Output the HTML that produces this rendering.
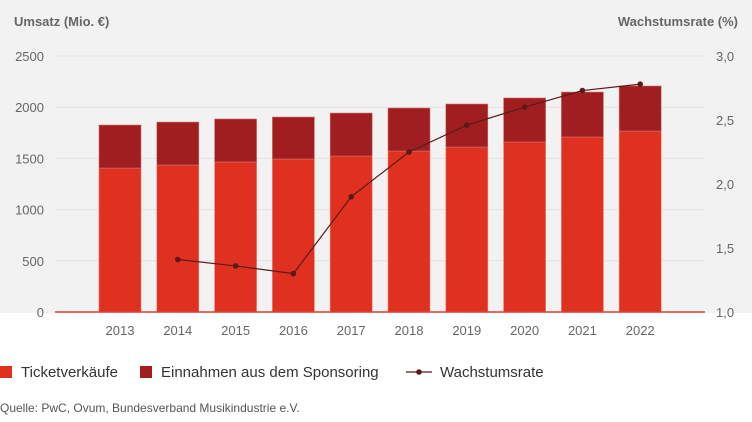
<!DOCTYPE html>
<html><head><meta charset="utf-8"><style>
body{margin:0;width:752px;height:417px;background:#fff;font-family:"Liberation Sans",sans-serif;overflow:hidden}
</style></head><body>
<svg width="752" height="417" id="c" font-family="Liberation Sans, sans-serif">
<rect x="0" y="0" width="752" height="313" fill="#f2f2f2"/>
<text x="14" y="26" font-size="13" font-weight="bold" fill="#666">Umsatz (Mio. €)</text>
<text x="738" y="26" font-size="13" font-weight="bold" fill="#666" text-anchor="end">Wachstumsrate (%)</text>
<g id="grid"></g><g id="bars"></g><g id="line"></g><g id="axes"></g>
<g font-size="15" fill="#333">
<rect x="0" y="366" width="12" height="12" fill="#e03020"/>
<text x="21" y="377">Ticketverkäufe</text>
<rect x="140" y="366" width="12" height="12" fill="#a01e20"/>
<text x="161" y="377">Einnahmen aus dem Sponsoring</text>
<line x1="406" y1="372" x2="432" y2="372" stroke="#5a1a1a" stroke-width="1.3"/>
<circle cx="419" cy="372" r="2.8" fill="#5a1a1a"/>
<text x="440" y="377">Wachstumsrate</text>
</g>
<text x="0" y="412" font-size="12" fill="#555">Quelle: PwC, Ovum, Bundesverband Musikindustrie e.V.</text>
</svg>
<script>
const years=["2013","2014","2015","2016","2017","2018","2019","2020","2021","2022"];
const ticket=[1406,1435,1465,1494,1523,1572,1611,1660,1709,1767];
const sponsoring=[420,420,420,410,420,420,420,430,439,440];
const growth=[null,1.41,1.36,1.30,1.90,2.25,2.46,2.60,2.73,2.78];
const leftTicks=[0,500,1000,1500,2000,2500];
const rightTicks=["1,0","1,5","2,0","2,5","3,0"];
const rightVals=[1.0,1.5,2.0,2.5,3.0];
const NS="http://www.w3.org/2000/svg";
const yL=v=>312-v/2500*256;
const yR=v=>312-(v-1)/2*256;
const xC=i=>120+57.8*i;
const bw=42;
function mk(t,a,p){const e=document.createElementNS(NS,t);for(const k in a)e.setAttribute(k,a[k]);p.appendChild(e);return e;}
const g=document.getElementById('grid'),b=document.getElementById('bars'),l=document.getElementById('line'),ax=document.getElementById('axes');
leftTicks.forEach(v=>{
 const ln=mk('line',{x1:55,x2:705,y1:yL(v),y2:yL(v),stroke:'#e2e2e2','stroke-width':1},g);
 
 
 const t=mk('text',{x:44,y:yL(v)+5,'font-size':13,fill:'#666','text-anchor':'end'},ax);t.textContent=v;
 
 
});
rightVals.forEach((v,i)=>{
 const t=mk('text',{x:716,y:yR(v)+5,'font-size':13,fill:'#666'},ax);t.textContent=rightTicks[i];
 
 
});
years.forEach((y,i)=>{
 const x=xC(i)-bw/2;
 const r1=mk('rect',{x:x,y:yL(ticket[i]),width:bw,height:yL(0)-yL(ticket[i]),fill:'#e03020',stroke:'#f08070','stroke-width':0.6},b);
 
 
 const tot=ticket[i]+sponsoring[i];
 const r2=mk('rect',{x:x,y:yL(tot),width:bw,height:yL(ticket[i])-yL(tot),fill:'#a01e20',stroke:'#d07070','stroke-width':0.6},b);
 
 
 const t=mk('text',{x:xC(i),y:335,'font-size':13,fill:'#666','text-anchor':'middle'},ax);t.textContent=y;
 
 
});
const al=mk('line',{x1:55,x2:705,y1:312,y2:312,stroke:'#e04030','stroke-width':1.5},ax);


let pts=[];growth.forEach((v,i)=>{if(v!==null)pts.push(xC(i)+','+yR(v));});
const pl=mk('polyline',{points:pts.join(' '),fill:'none',stroke:'#5a1a1a','stroke-width':1.2},l);


growth.forEach((v,i)=>{if(v===null)return;
 const c=mk('circle',{cx:xC(i),cy:yR(v),r:2.8,fill:'#5a1a1a'},l);
 
 
});
</script>
</body></html>
